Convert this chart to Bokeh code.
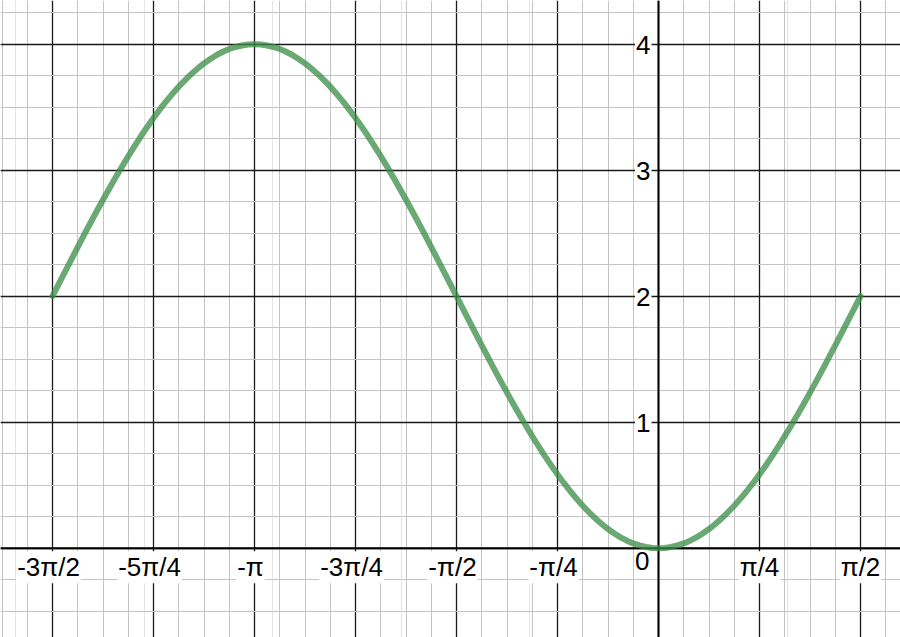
import math
from bokeh.plotting import figure
from bokeh.models import Grid, FixedTicker, Span, ColumnDataSource, Range1d
from bokeh.core.properties import value
from bokeh.embed import file_html
from bokeh.resources import INLINE

PI = math.pi

# curve samples: x in units of pi/64 (from -3pi/2 to pi/2), y
x_steps_pi64 = list(range(-96, 33))
y_values = [
    2.000, 2.098, 2.196, 2.293, 2.390, 2.486, 2.581, 2.674, 2.765, 2.855, 2.943,
    3.028, 3.111, 3.191, 3.269, 3.343, 3.414, 3.482, 3.546, 3.606, 3.663, 3.715,
    3.764, 3.808, 3.848, 3.883, 3.914, 3.940, 3.962, 3.978, 3.990, 3.998, 4.000,
    3.998, 3.990, 3.978, 3.962, 3.940, 3.914, 3.883, 3.848, 3.808, 3.764, 3.715,
    3.663, 3.606, 3.546, 3.482, 3.414, 3.343, 3.269, 3.191, 3.111, 3.028, 2.943,
    2.855, 2.765, 2.674, 2.581, 2.486, 2.390, 2.293, 2.196, 2.098, 2.000,
    1.902, 1.804, 1.707, 1.610, 1.514, 1.419, 1.326, 1.235, 1.145, 1.057, 0.972,
    0.889, 0.809, 0.731, 0.657, 0.586, 0.518, 0.454, 0.394, 0.337, 0.285, 0.236,
    0.192, 0.152, 0.117, 0.086, 0.060, 0.038, 0.022, 0.010, 0.002, 0.000,
    0.002, 0.010, 0.022, 0.038, 0.060, 0.086, 0.117, 0.152, 0.192, 0.236, 0.285,
    0.337, 0.394, 0.454, 0.518, 0.586, 0.657, 0.731, 0.809, 0.889, 0.972, 1.057,
    1.145, 1.235, 1.326, 1.419, 1.514, 1.610, 1.707, 1.804, 1.902, 2.000,
]

# x tick labels (positions in units of pi/4)
x_tick_quarters = [-6, -5, -4, -3, -2, -1, 0, 1, 2]
x_tick_labels = ["-3π/2", "-5π/4", "-π", "-3π/4", "-π/2", "-π/4", "0", "π/4", "π/2"]
y_tick_values = [1, 2, 3, 4]
y_tick_labels = ["1", "2", "3", "4"]

W, H = 900, 637
# pixel geometry of the reference
x0_px, px_per_q = 658.0, 101.0
y0_px, px_per_unit = 547.7, 126.0
q = PI / 4
x_lo = (0 - x0_px) / px_per_q * q
x_hi = (W - x0_px) / px_per_q * q
y_hi = (y0_px - 0) / px_per_unit
y_lo = (y0_px - H) / px_per_unit

p = figure(width=W, height=H, output_backend="svg", toolbar_location=None,
           x_range=Range1d(x_lo, x_hi), y_range=Range1d(y_lo, y_hi),
           x_axis_location=None, y_axis_location=None, min_border=0,
           outline_line_color=None, background_fill_color="white")

# grid ticks
xq_min = math.floor(x_lo / q) - 1
xq_max = math.ceil(x_hi / q) + 1
x_major = [k * q for k in range(xq_min, xq_max + 1)]
x_minor = [k * q / 4 for k in range(xq_min * 4, xq_max * 4 + 1)]
y_major = list(range(math.floor(y_lo) - 1, math.ceil(y_hi) + 2))
y_minor = [k / 4 for k in range((math.floor(y_lo) - 1) * 4, (math.ceil(y_hi) + 2) * 4 + 1)]

for dim, major, minor in [(0, x_major, x_minor), (1, y_major, y_minor)]:
    g = Grid(dimension=dim, ticker=FixedTicker(ticks=major, minor_ticks=minor),
             grid_line_color="#1a1a1a", grid_line_width=1.3,
             minor_grid_line_color="#c4c4c4", minor_grid_line_width=1)
    p.add_layout(g)

for dim, loc in [("height", 0), ("width", 0)]:
    p.add_layout(Span(location=loc, dimension=dim, line_color="black",
                      line_width=2, level="underlay"))

xs = [k * PI / 64 for k in x_steps_pi64]
src = ColumnDataSource(dict(x=xs, y=y_values))
p.line("x", "y", source=src, line_color="#388c46", line_alpha=0.75, line_width=6,
       line_cap="round", line_join="round")

font = value("Liberation Sans")
fs = "26px"

# x tick labels
xl_x, xl_lab, xl_off, xl_align = [], [], [], []
for k, lab in zip(x_tick_quarters, x_tick_labels):
    xl_x.append(k * q)
    xl_lab.append(lab)
    if k == 0:
        xl_off.append(-8)
        xl_align.append("right")
    else:
        xl_off.append(-4 if lab.startswith("-") else 0)
        xl_align.append("center")
xsrc = ColumnDataSource(dict(x=xl_x, y=[0] * len(xl_x), text=xl_lab, xo=xl_off, al=xl_align))
p.text("x", "y", text="text", source=xsrc, x_offset="xo", y_offset=3,
       text_align="al", text_baseline="top", text_font=font, text_font_size=fs,
       text_color="black", background_fill_color="white", padding=1)

ysrc = ColumnDataSource(dict(x=[0] * len(y_tick_values), y=y_tick_values, text=y_tick_labels))
p.text("x", "y", text="text", source=ysrc, x_offset=-7, y_offset=1,
       text_align="right", text_baseline="middle", text_font=font, text_font_size=fs,
       text_color="black", background_fill_color="white", padding=1)

open("out.html", "w").write(file_html(p, INLINE))
